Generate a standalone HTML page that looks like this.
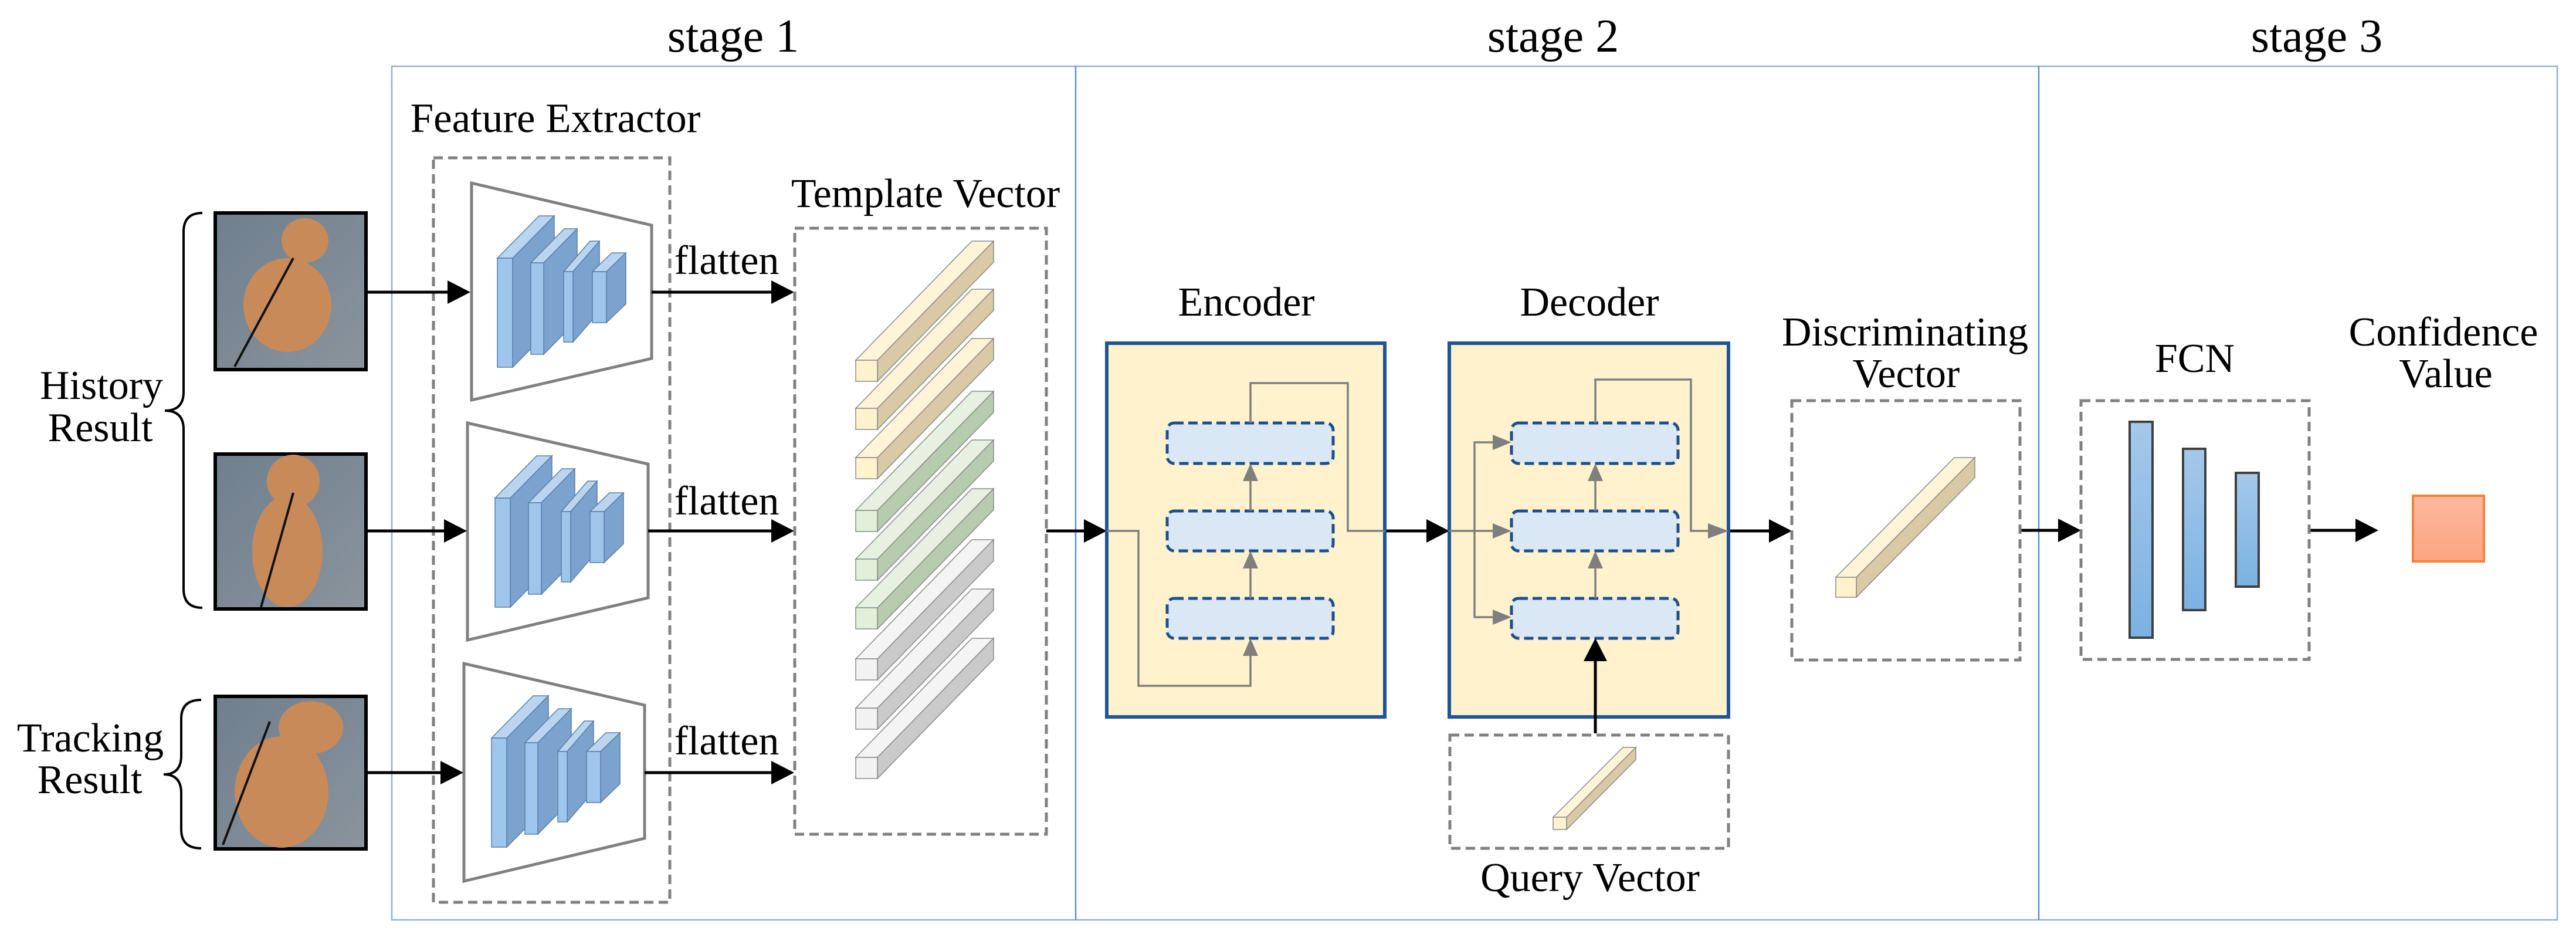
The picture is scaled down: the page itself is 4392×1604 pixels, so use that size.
<!DOCTYPE html>
<html><head><meta charset="utf-8"><style>
html,body{margin:0;padding:0;background:#fff}
svg{display:block}
svg text{font-family:"Liberation Serif","DejaVu Serif",serif !important;fill:#000}
</style></head><body>
<svg width="4392" height="1604" viewBox="0 0 4392 1604" xmlns="http://www.w3.org/2000/svg" font-family="Liberation Serif, DejaVu Serif, serif">
<defs>
<linearGradient id="dog" x1="0" y1="0" x2="1" y2="1"><stop offset="0" stop-color="#6f7f8f"/><stop offset="1" stop-color="#8a949c"/></linearGradient>
<linearGradient id="fcn" x1="0" y1="0" x2="0" y2="1"><stop offset="0" stop-color="#a5c8ea"/><stop offset="1" stop-color="#7ab2e2"/></linearGradient>
<linearGradient id="orange" x1="0" y1="0" x2="0" y2="1"><stop offset="0" stop-color="#fdb89c"/><stop offset="1" stop-color="#fca582"/></linearGradient>
<g id="conv" stroke="#5a7fa8" stroke-width="1.5">
 <polygon points="848,440 919,368 945,368 874,440" fill="#b9d5f0"/>
 <polygon points="874,440 945,368 945,554 874,626" fill="#7ba3cd"/>
 <rect x="848" y="440" width="26" height="186" fill="#9ec6ec"/>
 <polygon points="905,448 962,390 984,390 927,448" fill="#b9d5f0"/>
 <polygon points="927,448 984,390 984,546 927,604" fill="#7ba3cd"/>
 <rect x="905" y="448" width="22" height="156" fill="#9ec6ec"/>
 <polygon points="961,463 1006,411 1022,411 977,463" fill="#b9d5f0"/>
 <polygon points="977,463 1022,411 1022,531 977,583" fill="#7ba3cd"/>
 <rect x="961" y="463" width="16" height="120" fill="#9ec6ec"/>
 <polygon points="1010,463 1043,431 1067,431 1034,463" fill="#b9d5f0"/>
 <polygon points="1034,463 1067,431 1067,518 1034,550" fill="#7ba3cd"/>
 <rect x="1010" y="463" width="24" height="87" fill="#9ec6ec"/>
</g>
</defs>

<rect x="668" y="113" width="3692" height="1455" fill="none" stroke="#8fb0d8" stroke-width="2.5"/>
<line x1="1834" y1="113" x2="1834" y2="1568" stroke="#5b8fd0" stroke-width="2.5"/>
<line x1="3476" y1="113" x2="3476" y2="1568" stroke="#5b8fd0" stroke-width="2.5"/>
<text x="1250" y="88" font-size="80" text-anchor="middle">stage 1</text>
<text x="2648" y="88" font-size="80" text-anchor="middle">stage 2</text>
<text x="3950" y="88" font-size="80" text-anchor="middle">stage 3</text>

<text x="173" y="680" font-size="70" text-anchor="middle">History</text>
<text x="171" y="752" font-size="70" text-anchor="middle">Result</text>
<text x="154" y="1281" font-size="70" text-anchor="middle">Tracking</text>
<text x="153" y="1352" font-size="70" text-anchor="middle">Result</text>
<path d="M345,363 Q313,363 313,395 L313,668 Q313,700 281,700 Q313,700 313,732 L313,1004 Q313,1036 345,1036" fill="none" stroke="#000" stroke-width="4"/>
<path d="M343,1193 Q309,1193 309,1225 L309,1288 Q309,1320 279,1320 Q309,1320 309,1352 L309,1414 Q309,1446 343,1446" fill="none" stroke="#000" stroke-width="4"/>

<g stroke="#000" stroke-width="6">
<rect x="367" y="363" width="257" height="267" fill="url(#dog)"/>
<rect x="367" y="774" width="257" height="264" fill="url(#dog)"/>
<rect x="367" y="1187" width="257" height="260" fill="url(#dog)"/>
</g>
<g fill="#c98a5a">
<ellipse cx="520" cy="410" rx="40" ry="38"/><ellipse cx="490" cy="520" rx="75" ry="80"/>
<ellipse cx="500" cy="820" rx="45" ry="45"/><ellipse cx="490" cy="940" rx="60" ry="95"/>
<ellipse cx="530" cy="1240" rx="55" ry="45"/><ellipse cx="480" cy="1350" rx="80" ry="95"/>
</g>
<g stroke="#111" stroke-width="4"><line x1="400" y1="625" x2="500" y2="440"/><line x1="445" y1="1035" x2="500" y2="840"/><line x1="380" y1="1440" x2="460" y2="1230"/></g>

<text x="947" y="225" font-size="71" text-anchor="middle">Feature Extractor</text>
<rect x="739" y="269" width="403" height="1269" fill="none" stroke="#808080" stroke-width="5" stroke-dasharray="16,9"/>
<g fill="#fff" stroke="#808080" stroke-width="5">
<polygon points="804,312 1111,384 1111,611 804,682"/>
<polygon points="797,721 1105,791 1105,1019 797,1091"/>
<polygon points="791,1131 1099,1202 1099,1429 791,1502"/>
</g>
<use href="#conv"/>
<use href="#conv" transform="translate(-4,409)"/>
<use href="#conv" transform="translate(-10,818)"/>

<g stroke="#000" stroke-width="5">
<line x1="624" y1="498" x2="770" y2="498"/><line x1="624" y1="905" x2="762" y2="905"/><line x1="624" y1="1317" x2="756" y2="1317"/>
<line x1="1111" y1="498" x2="1318" y2="498"/><line x1="1105" y1="905" x2="1318" y2="905"/><line x1="1099" y1="1317" x2="1318" y2="1317"/>
<line x1="1784" y1="905" x2="1852" y2="905"/><line x1="2361" y1="905" x2="2436" y2="905"/><line x1="2947" y1="905" x2="3020" y2="905"/>
<line x1="3444" y1="904" x2="3512" y2="904"/><line x1="3937" y1="904" x2="4020" y2="904"/>
</g>
<g fill="#000">
<polygon points="802,498 763,478 763,518"/><polygon points="796,905 757,885 757,925"/><polygon points="790,1317 751,1297 751,1337"/>
<polygon points="1354,498 1315,478 1315,518"/><polygon points="1354,905 1315,885 1315,925"/><polygon points="1354,1317 1315,1297 1315,1337"/>
<polygon points="1887,905 1848,885 1848,925"/><polygon points="2471,905 2432,885 2432,925"/><polygon points="3055,905 3016,885 3016,925"/>
<polygon points="3548,904 3509,884 3509,924"/><polygon points="4055,904 4016,884 4016,924"/>
</g>
<text x="1239" y="467" font-size="70" text-anchor="middle">flatten</text>
<text x="1239" y="877" font-size="70" text-anchor="middle">flatten</text>
<text x="1239" y="1286" font-size="70" text-anchor="middle">flatten</text>

<text x="1578" y="353" font-size="70" text-anchor="middle">Template Vector</text>
<rect x="1355" y="389" width="429" height="1033" fill="none" stroke="#808080" stroke-width="5" stroke-dasharray="16,9"/>
<g stroke="#8a8a8a" stroke-width="1.5">
<g id="barC"><polygon points="1459,614 1657,411 1694,411 1496,614" fill="#fff4d6"/><polygon points="1496,614 1694,411 1694,447 1496,650" fill="#d9c9a6"/><rect x="1459" y="614" width="37" height="36" fill="#fff2cc"/></g>
<use href="#barC" transform="translate(0,82)"/><use href="#barC" transform="translate(0,166)"/>
<g id="barG"><polygon points="1459,870 1657,667 1694,667 1496,870" fill="#e6f2df"/><polygon points="1496,870 1694,667 1694,703 1496,906" fill="#b7cbae"/><rect x="1459" y="870" width="37" height="36" fill="#e2f0d9"/></g>
<use href="#barG" transform="translate(0,83)"/><use href="#barG" transform="translate(0,166)"/>
<g id="barY"><polygon points="1459,1123 1657,920 1694,920 1496,1123" fill="#f4f4f4"/><polygon points="1496,1123 1694,920 1694,956 1496,1159" fill="#cacaca"/><rect x="1459" y="1123" width="37" height="36" fill="#f2f2f2"/></g>
<use href="#barY" transform="translate(0,84)"/><use href="#barY" transform="translate(0,168)"/>
</g>

<text x="2125" y="538" font-size="70" text-anchor="middle">Encoder</text>
<rect x="1887" y="585" width="474" height="637" fill="#fff2cc" stroke="#1f5596" stroke-width="6"/>
<g fill="#dae8f5" stroke="#1f4e8c" stroke-width="5" stroke-dasharray="16,8">
<rect x="1990" y="721" width="283" height="69" rx="12"/><rect x="1990" y="871" width="283" height="68" rx="12"/><rect x="1990" y="1020" width="283" height="68" rx="12"/>
</g>
<g fill="none" stroke="#7f7f7f" stroke-width="3.5">
<polyline points="1887,905 1941,905 1941,1169 2132,1169 2132,1115"/>
<line x1="2132" y1="1020" x2="2132" y2="966"/><line x1="2132" y1="871" x2="2132" y2="817"/>
<polyline points="2132,721 2132,653 2298,653 2298,905 2361,905"/>
</g>
<g fill="#7f7f7f">
<polygon points="2132,1088 2119,1118 2145,1118"/><polygon points="2132,939 2119,969 2145,969"/><polygon points="2132,790 2119,820 2145,820"/>
</g>

<text x="2710" y="538" font-size="70" text-anchor="middle">Decoder</text>
<rect x="2471" y="585" width="476" height="637" fill="#fff2cc" stroke="#1f5596" stroke-width="6"/>
<g fill="#dae8f5" stroke="#1f4e8c" stroke-width="5" stroke-dasharray="16,8">
<rect x="2577" y="721" width="284" height="69" rx="12"/><rect x="2577" y="871" width="284" height="68" rx="12"/><rect x="2577" y="1020" width="284" height="68" rx="12"/>
</g>
<g fill="none" stroke="#7f7f7f" stroke-width="3.5">
<line x1="2471" y1="905" x2="2550" y2="905"/>
<polyline points="2550,754 2514,754 2514,1052 2550,1052"/>
<line x1="2720" y1="1020" x2="2720" y2="966"/><line x1="2720" y1="871" x2="2720" y2="817"/>
<polyline points="2720,721 2720,647 2883,647 2883,905 2915,905"/>
</g>
<g fill="#7f7f7f">
<polygon points="2577,754 2545,741 2545,767"/><polygon points="2577,905 2545,892 2545,918"/><polygon points="2577,1052 2545,1039 2545,1065"/>
<polygon points="2720,939 2707,969 2733,969"/><polygon points="2720,790 2707,820 2733,820"/>
<polygon points="2947,905 2912,892 2912,918"/>
</g>
<line x1="2720" y1="1250" x2="2720" y2="1120" stroke="#000" stroke-width="5"/>
<polygon points="2720,1088 2700,1127 2740,1127" fill="#000"/>

<rect x="2472" y="1253" width="475" height="193" fill="none" stroke="#808080" stroke-width="5" stroke-dasharray="16,9"/>
<g stroke="#8a8a8a" stroke-width="1.5">
<polygon points="2648,1393 2767,1274 2789,1274 2671,1393" fill="#fff4d6"/>
<polygon points="2671,1393 2789,1274 2789,1295 2671,1414" fill="#d9c9a6"/>
<rect x="2648" y="1393" width="23" height="21" fill="#fff2cc"/>
</g>
<text x="2711" y="1519" font-size="70" text-anchor="middle">Query Vector</text>

<text x="3248" y="589" font-size="70" text-anchor="middle">Discriminating</text>
<text x="3250" y="660" font-size="70" text-anchor="middle">Vector</text>
<rect x="3055" y="683" width="389" height="442" fill="none" stroke="#808080" stroke-width="5" stroke-dasharray="16,9"/>
<g stroke="#8a8a8a" stroke-width="1.5">
<polygon points="3130,984 3332,780 3367,780 3165,984" fill="#fff4d6"/>
<polygon points="3165,984 3367,780 3367,814 3165,1018" fill="#d9c9a6"/>
<rect x="3130" y="984" width="35" height="34" fill="#fff2cc"/>
</g>

<text x="3742" y="634" font-size="70" text-anchor="middle">FCN</text>
<rect x="3548" y="683" width="389" height="441" fill="none" stroke="#808080" stroke-width="5" stroke-dasharray="16,9"/>
<g fill="url(#fcn)" stroke="#404040" stroke-width="4">
<rect x="3631" y="719" width="39" height="368"/><rect x="3722" y="765" width="38" height="275"/><rect x="3812" y="806" width="39" height="194"/>
</g>

<text x="4166" y="589" font-size="70" text-anchor="middle">Confidence</text>
<text x="4170" y="660" font-size="70" text-anchor="middle">Value</text>
<rect x="4114" y="845" width="121" height="112" fill="url(#orange)" stroke="#f5813f" stroke-width="4"/>
</svg>
</body></html>
